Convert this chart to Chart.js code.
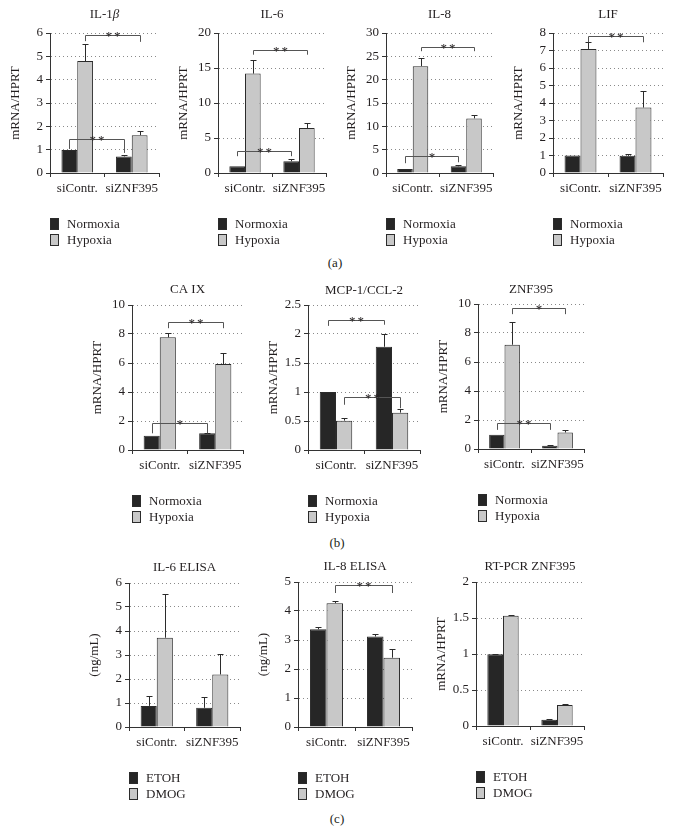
<!DOCTYPE html>
<html>
<head>
<meta charset="utf-8">
<script src="https://cdn.jsdelivr.net/npm/chart.js@4"></script>
<style>
  body { margin: 0; background: #fff; }
  #fig { position: relative; width: 673px; height: 833px; font-family: "Liberation Serif", serif; color: #231f20; overflow: hidden; }
  #fig canvas { position: absolute; }
  .panel { position: absolute; font-size: 13px; transform: translate(-50%, -50%); }
</style>
</head>
<body>
<div id="fig">
  <div class="panel" style="left:335px;top:263px">(a)</div>
  <div class="panel" style="left:337px;top:543px">(b)</div>
  <div class="panel" style="left:337px;top:819px">(c)</div>
</div>
<script>
const categories = ['siContr.', 'siZNF395'];
const oxygenSeries = ['Normoxia', 'Hypoxia'];
const treatSeries = ['ETOH', 'DMOG'];

// (a) mRNA/HPRT, bar value and top of error bar
const il1bNormoxia = [0.99, 0.71];   const il1bNormoxiaErr = [0.99, 0.78];
const il1bHypoxia = [4.80, 1.62];    const il1bHypoxiaErr = [5.51, 1.79];
const il6Normoxia = [0.95, 1.67];    const il6NormoxiaErr = [0.95, 2.0];
const il6Hypoxia = [14.2, 6.43];     const il6HypoxiaErr = [16.2, 7.14];
const il8Normoxia = [0.86, 1.43];    const il8NormoxiaErr = [0.86, 1.8];
const il8Hypoxia = [22.9, 11.7];     const il8HypoxiaErr = [24.6, 12.4];
const lifNormoxia = [1.0, 0.98];     const lifNormoxiaErr = [1.0, 1.1];
const lifHypoxia = [7.09, 3.74];     const lifHypoxiaErr = [7.49, 4.69];

// (b)
const caixNormoxia = [0.99, 1.15];   const caixNormoxiaErr = [0.99, 1.2];
const caixHypoxia = [7.77, 5.93];    const caixHypoxiaErr = [8.05, 6.71];
const mcpNormoxia = [1.0, 1.78];     const mcpNormoxiaErr = [1.0, 2.0];
const mcpHypoxia = [0.506, 0.644];   const mcpHypoxiaErr = [0.546, 0.70];
const znfNormoxia = [0.98, 0.23];    const znfNormoxiaErr = [0.98, 0.27];
const znfHypoxia = [7.19, 1.14];     const znfHypoxiaErr = [8.74, 1.32];

// (c)
const il6eEtoh = [0.88, 0.80];       const il6eEtohErr = [1.30, 1.23];
const il6eDmog = [3.72, 2.19];       const il6eDmogErr = [5.55, 3.03];
const il8eEtoh = [3.37, 3.12];       const il8eEtohErr = [3.46, 3.21];
const il8eDmog = [4.27, 2.39];       const il8eDmogErr = [4.36, 2.68];
const rtEtoh = [0.995, 0.088];       const rtEtohErr = [1.0, 0.098];
const rtDmog = [1.53, 0.293];        const rtDmogErr = [1.54, 0.302];

// y axis ranges [max, step]
const il1bAxis = [6, 1], il6Axis = [20, 5], il8Axis = [30, 5], lifAxis = [8, 1];
const caixAxis = [10, 2], mcpAxis = [2.5, 0.5], znfAxis = [10, 2];
const il6eAxis = [6, 1], il8eAxis = [5, 1], rtAxis = [2, 0.5];

// significance brackets: from/to = [series, category], y = bar line, ya/yb = ends of the drops
const il1bSig = [
  {from: [1, 0], to: [1, 1], y: 5.93, ya: 5.65, yb: 5.62, text: '**'},
  {from: [0, 0], to: [0, 1], y: 1.45, ya: 1.03, yb: 0.86, text: '**'}];
const il6Sig = [
  {from: [1, 0], to: [1, 1], y: 17.6, ya: 16.9, yb: 16.9, text: '**'},
  {from: [0, 0], to: [0, 1], y: 3.2, ya: 2.4, yb: 2.4, text: '**'}];
const il8Sig = [
  {from: [1, 0], to: [1, 1], y: 27.1, ya: 26.1, yb: 26.1, text: '**'},
  {from: [0, 0], to: [0, 1], y: 3.6, ya: 2.1, yb: 2.3, text: '*'}];
const lifSig = [
  {from: [1, 0], to: [1, 1], y: 7.85, ya: 7.47, yb: 7.47, text: '**'}];
const caixSig = [
  {from: [1, 0], to: [1, 1], y: 8.85, ya: 8.4, yb: 8.4, text: '**'},
  {from: [0, 0], to: [0, 1], y: 1.84, ya: 1.15, yb: 1.15, text: '*'}];
const mcpSig = [
  {from: [0, 0], to: [0, 1], y: 2.24, ya: 2.14, yb: 2.16, text: '**'},
  {from: [1, 0], to: [1, 1], y: 0.92, ya: 0.78, yb: 0.72, text: '**'}];
const znfSig = [
  {from: [1, 0], to: [1, 1], y: 9.73, ya: 9.3, yb: 9.3, text: '*'},
  {from: [0, 0], to: [0, 1], y: 1.78, ya: 1.32, yb: 1.32, text: '**'}];
const il8eSig = [
  {from: [1, 0], to: [1, 1], y: 4.91, ya: 4.62, yb: 4.62, text: '**'}];

const INK = '#231f20';
const FILLS = ['#262626', '#c8c8c8'];
const FONT = {family: '"Liberation Serif", serif', size: 13};

const decor = {
  id: 'decor',
  afterDatasetsDraw(chart, args, opts) {
    const {ctx, scales: {y}} = chart;
    ctx.save();
    ctx.strokeStyle = '#2b2b2b';
    ctx.lineWidth = 1;
    // error bars (upper only)
    chart.data.datasets.forEach((ds, i) => {
      chart.getDatasetMeta(i).data.forEach((bar, j) => {
        const e = ds.err[j];
        if (e == null || e <= ds.data[j]) return;
        const x = Math.round(bar.x) + 0.5;
        const ye = Math.round(y.getPixelForValue(e)) + 0.5;
        ctx.beginPath();
        ctx.moveTo(x, bar.y);
        ctx.lineTo(x, ye);
        ctx.moveTo(x - 3, ye);
        ctx.lineTo(x + 3, ye);
        ctx.stroke();
      });
    });
    // brackets
    ctx.strokeStyle = '#555';
    ctx.fillStyle = INK;
    ctx.font = '13px "Liberation Serif", serif';
    ctx.textAlign = 'center';
    ctx.textBaseline = 'alphabetic';
    (opts.brackets || []).forEach(b => {
      const xa = Math.round(chart.getDatasetMeta(b.from[0]).data[b.from[1]].x) + 0.5;
      const xb = Math.round(chart.getDatasetMeta(b.to[0]).data[b.to[1]].x) + 0.5;
      const yl = Math.round(y.getPixelForValue(b.y)) + 0.5;
      ctx.beginPath();
      ctx.moveTo(xa, y.getPixelForValue(b.ya));
      ctx.lineTo(xa, yl);
      ctx.lineTo(xb, yl);
      ctx.lineTo(xb, y.getPixelForValue(b.yb));
      ctx.stroke();
      ctx.letterSpacing = '2px';
      ctx.fillText(b.text, (xa + xb) / 2 + 1, yl + 4);
      ctx.letterSpacing = '0px';
    });
    ctx.restore();
  },
  afterDraw(chart, args, opts) {
    const {ctx, chartArea: a} = chart;
    ctx.save();
    ctx.font = '13px "Liberation Serif", serif';
    ctx.fillStyle = INK;
    ctx.textBaseline = 'middle';
    // title, greek letters in italics
    const t = opts.title || '';
    const parts = t.split(/([\u03b1-\u03c9])/).filter(s => s);
    const fontOf = s => (/[\u03b1-\u03c9]/.test(s) ? 'italic ' : '') + '13px "Liberation Serif", serif';
    let total = 0;
    parts.forEach(s => { ctx.font = fontOf(s); total += ctx.measureText(s).width; });
    let x = (a.left + a.right) / 2 - total / 2;
    const ty = a.top - (opts.titleDy || 16);
    ctx.textAlign = 'left';
    parts.forEach(s => { ctx.font = fontOf(s); ctx.fillText(s, x, ty); x += ctx.measureText(s).width; });
    // vertical legend
    ctx.font = '13px "Liberation Serif", serif';
    ctx.strokeStyle = '#2b2b2b';
    chart.data.datasets.forEach((ds, i) => {
      const cy = Math.round(a.bottom + 51 + 16 * i);
      ctx.fillStyle = ds.backgroundColor;
      ctx.fillRect(a.left, cy - 6, 9, 12);
      ctx.strokeRect(a.left + 0.5, cy - 5.5, 8, 11);
      ctx.fillStyle = INK;
      ctx.fillText(ds.label, a.left + 17, cy + 1);
    });
    ctx.restore();
  }
};

function addChart(box, spec) {
  const fig = document.getElementById('fig');
  const cv = document.createElement('canvas');
  const w = 46 + (box[1] - box[0]) + 10;
  const h = 30 + (box[3] - box[2]) + 75;
  cv.width = w; cv.height = h;
  cv.style.left = (box[0] - 46) + 'px';
  cv.style.top = (box[2] - 30) + 'px';
  cv.style.width = w + 'px';
  cv.style.height = h + 'px';
  fig.appendChild(cv);

  new Chart(cv, {
    type: 'bar',
    data: {
      labels: categories,
      datasets: spec.series.map((name, i) => ({
        label: name,
        data: spec.values[i],
        err: spec.errors[i],
        backgroundColor: FILLS[i],
        borderColor: '#2b2b2b',
        borderWidth: 1,
        barPercentage: 1,
        categoryPercentage: 0.58
      }))
    },
    options: {
      responsive: false,
      animation: false,
      devicePixelRatio: 1,
      layout: {padding: {top: 30, right: 10, bottom: 55, left: 0}},
      plugins: {
        legend: {display: false},
        tooltip: {enabled: false},
        decor: {title: spec.title, titleDy: spec.titleDy, brackets: spec.brackets}
      },
      scales: {
        x: {
          grid: {display: true, drawOnChartArea: false, offset: true, tickLength: 4, color: '#333'},
          border: {color: '#333'},
          ticks: {font: FONT, color: INK, padding: 4, maxRotation: 0, minRotation: 0, autoSkip: false},
          afterFit: s => { s.height = 20; }
        },
        y: {
          min: 0,
          max: spec.axis[0],
          ticks: {stepSize: spec.axis[1], font: FONT, color: INK, padding: 3, autoSkip: false,
            callback: v => String(Math.round(v * 100) / 100)},
          grid: {color: '#8a8a8a', tickLength: 4, tickColor: '#333'},
          border: {color: '#333', dash: [1, 3]},
          title: {display: true, text: spec.yTitle, font: FONT, color: INK, padding: {top: 4, bottom: 0}},
          afterFit: s => { s.width = 46; }
        }
      }
    },
    plugins: [decor]
  });
}

// boxes: [left, right, top, bottom] of each plot area
addChart([50, 159, 33, 173], {title: 'IL-1β', titleDy: 18, yTitle: 'mRNA/HPRT', axis: il1bAxis, series: oxygenSeries,
  values: [il1bNormoxia, il1bHypoxia], errors: [il1bNormoxiaErr, il1bHypoxiaErr], brackets: il1bSig});
addChart([218, 326, 33, 173], {title: 'IL-6', titleDy: 18, yTitle: 'mRNA/HPRT', axis: il6Axis, series: oxygenSeries,
  values: [il6Normoxia, il6Hypoxia], errors: [il6NormoxiaErr, il6HypoxiaErr], brackets: il6Sig});
addChart([386, 493, 33, 173], {title: 'IL-8', titleDy: 18, yTitle: 'mRNA/HPRT', axis: il8Axis, series: oxygenSeries,
  values: [il8Normoxia, il8Hypoxia], errors: [il8NormoxiaErr, il8HypoxiaErr], brackets: il8Sig});
addChart([553, 663, 33, 173], {title: 'LIF', titleDy: 18, yTitle: 'mRNA/HPRT', axis: lifAxis, series: oxygenSeries,
  values: [lifNormoxia, lifHypoxia], errors: [lifNormoxiaErr, lifHypoxiaErr], brackets: lifSig});

addChart([132, 243, 305, 450], {title: 'CA IX', titleDy: 15, yTitle: 'mRNA/HPRT', axis: caixAxis, series: oxygenSeries,
  values: [caixNormoxia, caixHypoxia], errors: [caixNormoxiaErr, caixHypoxiaErr], brackets: caixSig});
addChart([308, 420, 305, 450], {title: 'MCP-1/CCL-2', titleDy: 14, yTitle: 'mRNA/HPRT', axis: mcpAxis, series: oxygenSeries,
  values: [mcpNormoxia, mcpHypoxia], errors: [mcpNormoxiaErr, mcpHypoxiaErr], brackets: mcpSig});
addChart([478, 584, 304, 449], {title: 'ZNF395', titleDy: 14, yTitle: 'mRNA/HPRT', axis: znfAxis, series: oxygenSeries,
  values: [znfNormoxia, znfHypoxia], errors: [znfNormoxiaErr, znfHypoxiaErr], brackets: znfSig});

addChart([129, 240, 583, 727], {title: 'IL-6 ELISA', titleDy: 15, yTitle: '(ng/mL)', axis: il6eAxis, series: treatSeries,
  values: [il6eEtoh, il6eDmog], errors: [il6eEtohErr, il6eDmogErr], brackets: []});
addChart([298, 412, 582, 727], {title: 'IL-8 ELISA', titleDy: 15, yTitle: '(ng/mL)', axis: il8eAxis, series: treatSeries,
  values: [il8eEtoh, il8eDmog], errors: [il8eEtohErr, il8eDmogErr], brackets: il8eSig});
addChart([476, 584, 582, 726], {title: 'RT-PCR ZNF395', titleDy: 15, yTitle: 'mRNA/HPRT', axis: rtAxis, series: treatSeries,
  values: [rtEtoh, rtDmog], errors: [rtEtohErr, rtDmogErr], brackets: []});
</script>
</body>
</html>
